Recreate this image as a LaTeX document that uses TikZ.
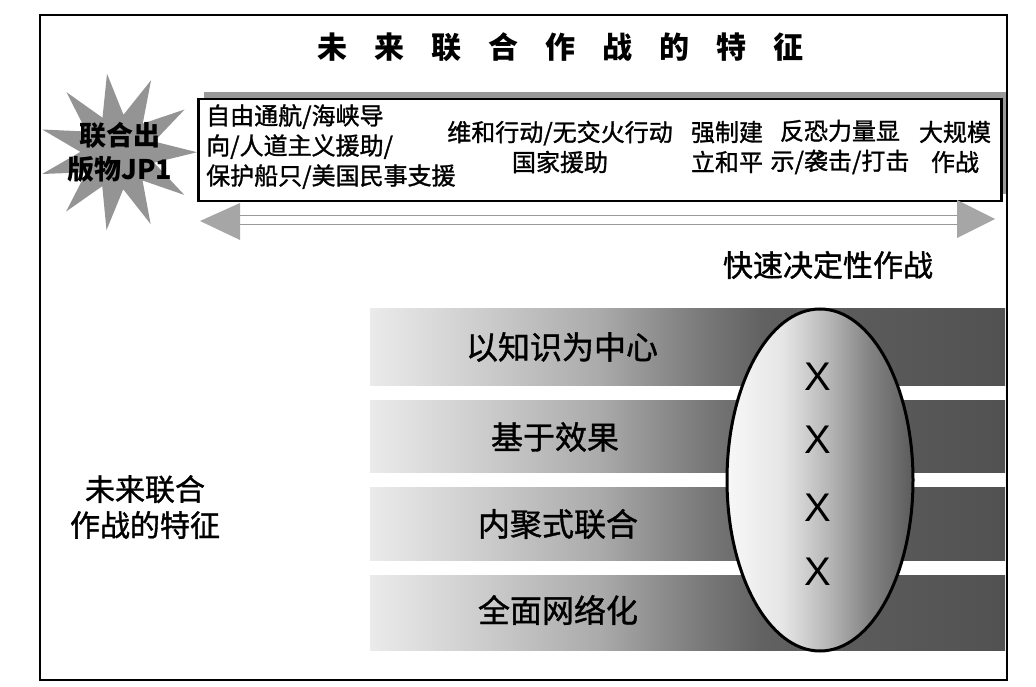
\documentclass[tikz,border=0pt]{standalone}
\usepackage{fontspec}
\setmainfont{Noto Sans CJK SC}
\newfontfamily\medfont{Noto Sans CJK SC}[FakeBold=1.2]
\newfontfamily\xfont{Liberation Sans}
\usetikzlibrary{shapes.geometric}
\pgfdeclarehorizontalshading{barshade}{100bp}{color(0bp)=(black!8); color(25bp)=(black!8); color(34bp)=(black!20); color(43bp)=(black!33); color(51bp)=(black!52); color(56bp)=(black!62); color(75bp)=(black!68); color(100bp)=(black!68)}
\pgfdeclarehorizontalshading{ellshade}{100bp}{color(0bp)=(black!3); color(25bp)=(black!3); color(40bp)=(black!10); color(52bp)=(black!28); color(63bp)=(black!48); color(75bp)=(black!64); color(100bp)=(black!64)}
\tikzset{
  boxtxt/.style={font=\medfont\fontsize{24}{30}\selectfont, inner sep=0pt},
  bartxt/.style={font=\medfont\fontsize{32}{36}\selectfont, inner sep=0pt},
  xmark/.style={font=\xfont\fontsize{40}{40}\selectfont, inner sep=0pt},
  headtip/.style={fill=black!35},
  shaft/.style={draw=black!40, line width=1pt}
}
\begin{document}
\begin{tikzpicture}[x=1pt,y=-1pt]
\useasboundingbox (0,0) rectangle (1036,687);
% outer frame
\draw[line width=2.5pt] (40,15) rectangle (1007,680);
% title
\node[font=\fontsize{30}{30}\selectfont\bfseries, inner sep=0pt] (title) at (560,47)
  {未\hspace{27pt}来\hspace{27pt}联\hspace{27pt}合\hspace{27pt}作\hspace{27pt}战\hspace{27pt}的\hspace{27pt}特\hspace{27pt}征};
% top box with shadow
\fill[black!40] (204,92) rectangle (1006,194);
\node[draw, line width=2.5pt, fill=white, minimum width=803pt, minimum height=102pt, anchor=north west, inner sep=0pt] (box) at (197,98) {};
\node[boxtxt, align=left, anchor=north west] (t1) at (206,104) {自由通航/海峡导\\向/人道主义援助/\\保护船只/美国民事支援};
\node[boxtxt, align=center] (t2) at (560,147) {维和行动/无交火行动\\国家援助};
\node[boxtxt, align=center] (t3) at (727,147) {强制建\\立和平};
\node[boxtxt, align=center] (t4) at (840,147) {反恐力量显\\示/袭击/打击};
\node[boxtxt, align=center] (t5) at (955,147) {大规模\\作战};
% starburst
\node[star, star points=11, star point ratio=2.1, minimum size=158pt, fill=black!42, rotate=8, inner sep=0pt] (burst) at (118,152) {};
\node[font=\fontsize{27}{34}\selectfont\bfseries, align=center, inner sep=0pt] (bursttext) at (120,152) {联合出\\版物JP1};
% double arrow
\coordinate (aL) at (200,221);
\coordinate (aR) at (995,219);
\draw[shaft] (238,216) -- (958,216);
\draw[shaft] (238,225) -- (958,225);
\fill[headtip] (aL) -- (240,203) -- (240,240) -- cycle;
\fill[headtip] (aR) -- (957,200) -- (957,238) -- cycle;
% label
\node[font=\medfont\fontsize{30}{30}\selectfont, inner sep=0pt] (fast) at (828,265) {快速决定性作战};
% bars
\shade[shading=barshade] (370,308) rectangle (1005,385);
\shade[shading=barshade] (370,400) rectangle (1005,472);
\shade[shading=barshade] (370,487) rectangle (1005,560);
\shade[shading=barshade] (370,575) rectangle (1005,650);
\node[bartxt] (b1) at (562,347) {以知识为中心};
\node[bartxt] (b2) at (555,437) {基于效果};
\node[bartxt] (b3) at (558,524) {内聚式联合};
\node[bartxt] (b4) at (558,610) {全面网络化};
% ellipse
\node[ellipse, draw, line width=3pt, shading=ellshade, minimum width=186pt, minimum height=342pt, inner sep=0pt] (ell) at (820,480) {};
\node[xmark] (x1) at (818,377) {X};
\node[xmark] (x2) at (818,440) {X};
\node[xmark] (x3) at (818,508) {X};
\node[xmark] (x4) at (818,572) {X};
% left label
\node[font=\medfont\fontsize{30}{36}\selectfont, align=center, inner sep=0pt] (side) at (145,507) {未来联合\\作战的特征};
\end{tikzpicture}
\end{document}
